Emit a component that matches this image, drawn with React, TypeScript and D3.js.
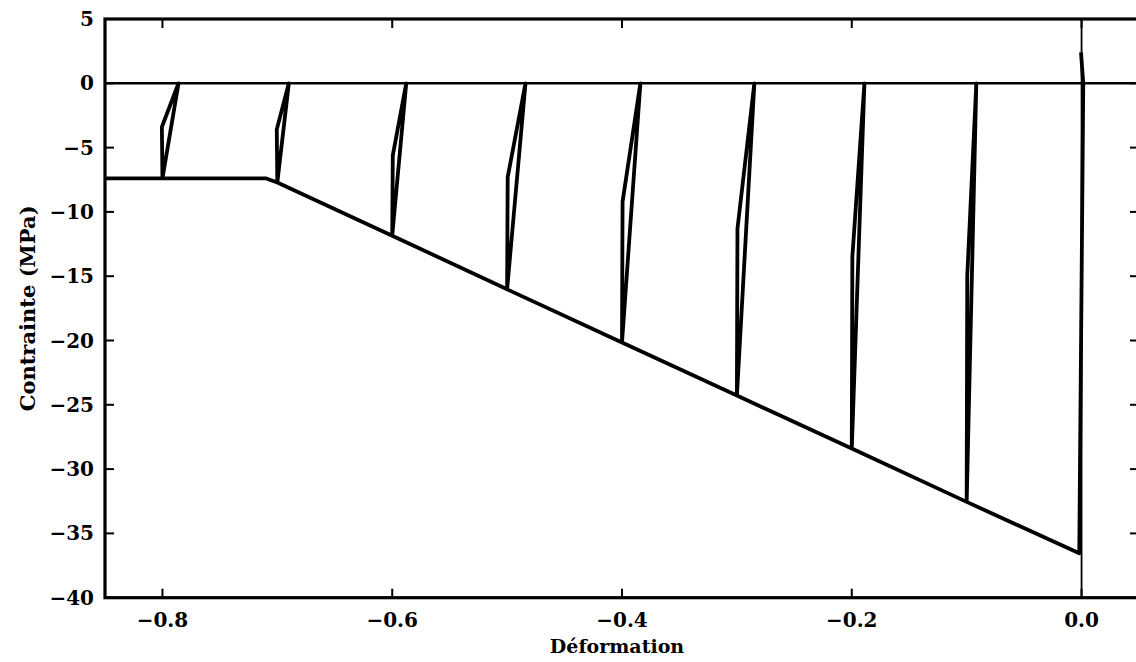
import React from "react";
import * as d3 from "d3";

const strain: number[] = [
  -0.0005, 0.0015, -0.002,
  -0.1, -0.0916, -0.0995, -0.1,
  -0.2, -0.189, -0.1995, -0.2,
  -0.3, -0.2848, -0.2995, -0.3,
  -0.4, -0.384, -0.3995, -0.4,
  -0.5, -0.484, -0.4995, -0.5,
  -0.6, -0.5878, -0.5995, -0.6,
  -0.7, -0.69, -0.7005, -0.7,
  -0.7102, -0.8, -0.786, -0.8005, -0.8,
  -0.86,
];
const stress: number[] = [
  2.4, 0, -36.55,
  -32.55, 0, -15.0, -32.55,
  -28.4, 0, -13.5, -28.4,
  -24.28, 0, -11.3, -24.28,
  -20.15, 0, -9.2, -20.15,
  -16.02, 0, -7.3, -16.02,
  -11.85, 0, -5.6, -11.85,
  -7.72, 0, -3.6, -7.72,
  -7.39, -7.39, 0, -3.4, -7.39,
  -7.39,
];

const xTicks = [-0.8, -0.6, -0.4, -0.2, 0.0];
const yTicks = [-40, -35, -30, -25, -20, -15, -10, -5, 0, 5];
const xDomain: [number, number] = [-0.85, 0.05];
const yDomain: [number, number] = [-40, 5];
const xTitle = "Déformation";
const yTitle = "Contrainte (MPa)";

const W = 1136;
const H = 662;
const left = 105;
const right = 1139;
const top = 19;
const bottom = 597.7;
const FONT = "'DejaVu Serif', serif";

function fmtX(v: number) {
  const s = Math.abs(v).toFixed(1);
  return v < -1e-9 ? "\u2212" + s : s;
}
function fmtY(v: number) {
  return v < 0 ? "\u2212" + Math.abs(v) : String(v);
}

export default function App() {
  const x = d3.scaleLinear().domain(xDomain).range([left, right]);
  const y = d3.scaleLinear().domain(yDomain).range([bottom, top]);
  const pts: [number, number][] = strain.map((s, i) => [s, stress[i]]);
  const line = d3
    .line<[number, number]>()
    .x((d) => x(d[0]))
    .y((d) => y(d[1]));
  const tickLen = 9;
  return (
    <svg
      width={W}
      height={H}
      style={{ position: "absolute", left: 0, top: 0, background: "#fff", overflow: "hidden" }}
    >
      <defs>
        <clipPath id="plot">
          <rect x={left} y={top} width={right - left} height={bottom - top} />
        </clipPath>
      </defs>
      <rect x={0} y={0} width={W} height={H} fill="#fff" />
      <g clipPath="url(#plot)">
        <line x1={left} x2={right} y1={y(0)} y2={y(0)} stroke="#000" strokeWidth={2.4} />
        <line x1={x(0)} x2={x(0)} y1={top} y2={bottom} stroke="#000" strokeWidth={1.8} />
        <path d={line(pts) || ""} fill="none" stroke="#000" strokeWidth={3.8} strokeLinejoin="round" />
      </g>
      {xTicks.map((t) => (
        <g key={"xt" + t}>
          <line x1={x(t)} x2={x(t)} y1={bottom} y2={bottom - tickLen} stroke="#000" strokeWidth={2} />
          <line x1={x(t)} x2={x(t)} y1={top} y2={top + tickLen} stroke="#000" strokeWidth={2} />
          <text x={x(t)} y={626.5} textAnchor="middle" fontFamily={FONT} fontWeight="bold" fontSize={20}>
            {fmtX(t)}
          </text>
        </g>
      ))}
      {yTicks.map((t) => (
        <g key={"yt" + t}>
          <line x1={left} x2={left + tickLen} y1={y(t)} y2={y(t)} stroke="#000" strokeWidth={2} />
          <line x1={right} x2={right - tickLen} y1={y(t)} y2={y(t)} stroke="#000" strokeWidth={2} />
          <text x={94} y={y(t) + 7} textAnchor="end" fontFamily={FONT} fontWeight="bold" fontSize={20}>
            {fmtY(t)}
          </text>
        </g>
      ))}
      <rect
        x={left}
        y={top}
        width={right - left}
        height={bottom - top}
        fill="none"
        stroke="#000"
        strokeWidth={3.2}
      />
      <text x={617} y={653} textAnchor="middle" fontFamily={FONT} fontWeight="bold" fontSize={19}>
        {xTitle}
      </text>
      <text
        transform={`translate(27,${(top + bottom) / 2}) rotate(-90)`}
        textAnchor="middle"
        dominantBaseline="central"
        fontFamily={FONT}
        fontWeight="bold"
        fontSize={21}
      >
        {yTitle}
      </text>
    </svg>
  );
}
